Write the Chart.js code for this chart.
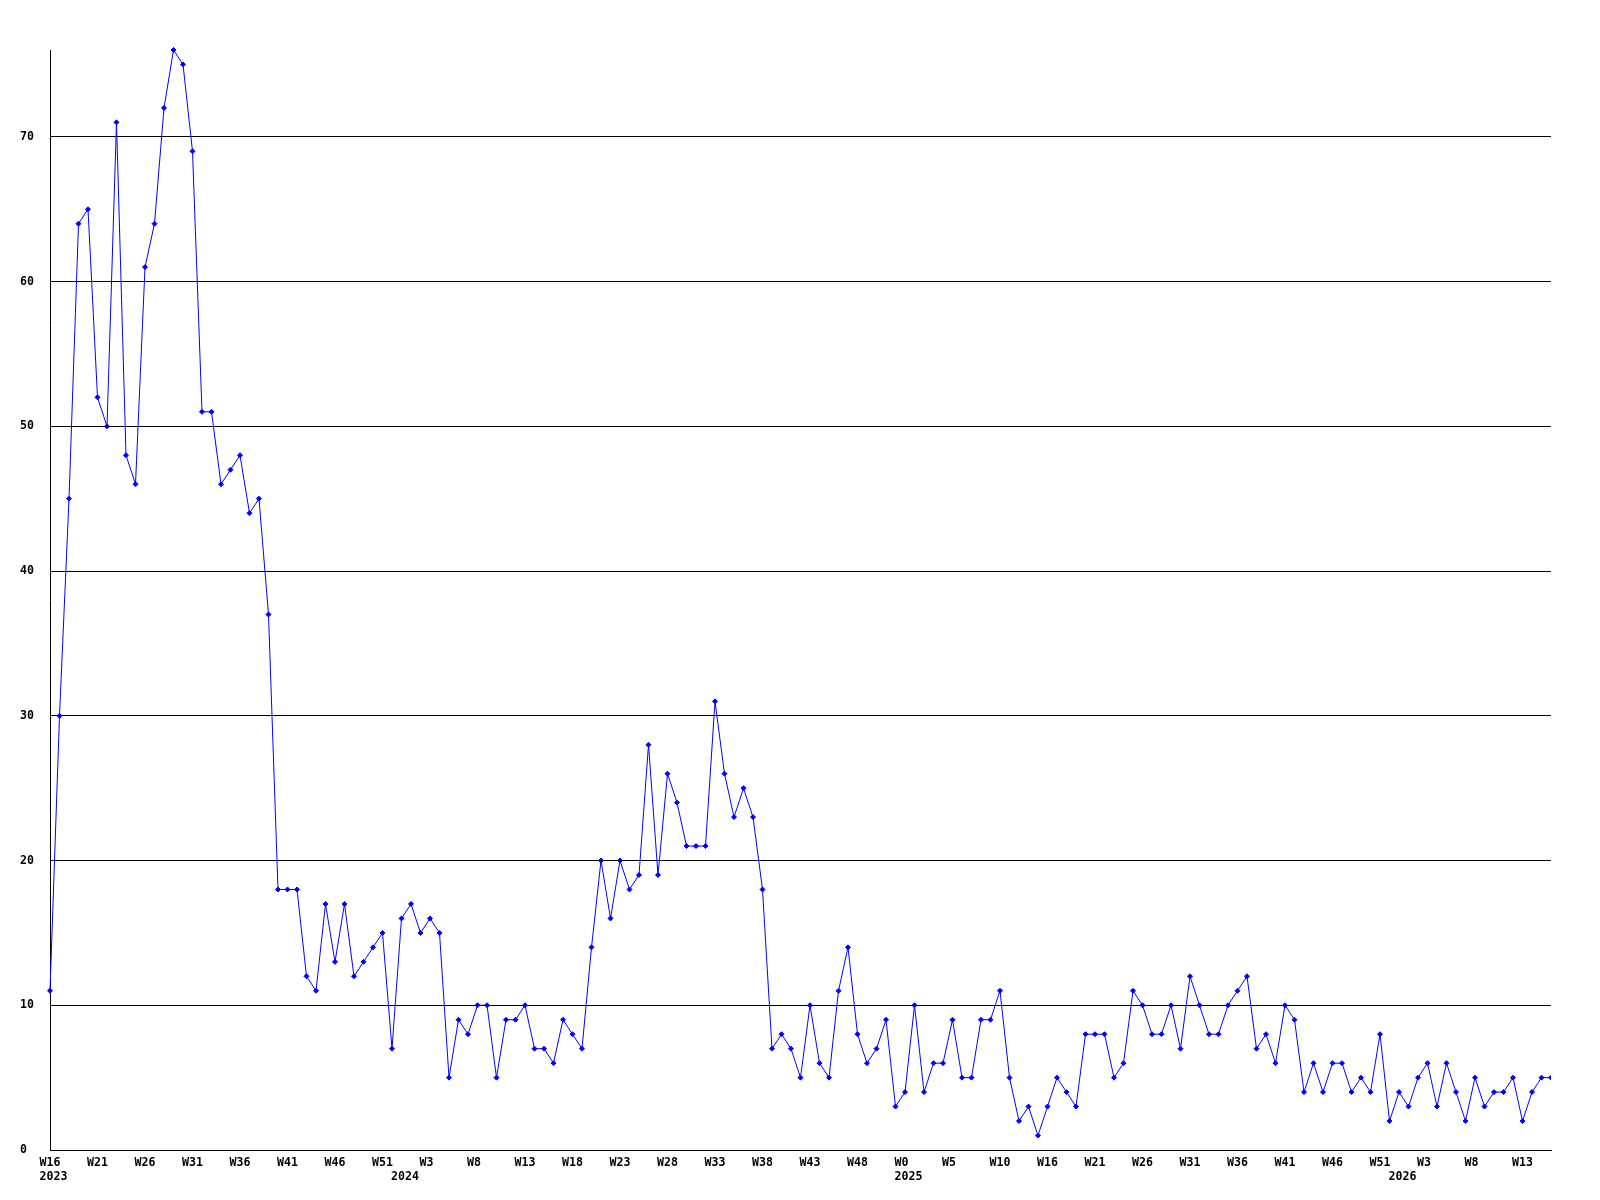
<!DOCTYPE html>
<html>
<head>
<meta charset="utf-8">
<title>Weekly count</title>
<script src="https://cdn.jsdelivr.net/npm/chart.js@4.4.0/dist/chart.umd.min.js"></script>
<style>
  body { margin: 0; background: #fff; }
  #chart { display: block; }
</style>
</head>
<body>
<canvas id="chart" width="1600" height="1200"></canvas>
<script>
// one value per week, starting at W16 2023
const weeklyCounts = [
    11, 30, 45, 64, 65, 52, 50, 71, 48, 46, 61, 64, 72, 76, 75, 69, 51, 51, 46, 47, 48, 44, 45, 37,
    18, 18, 18, 12, 11, 17, 13, 17, 12, 13, 14, 15, 7, 16, 17, 15, 16, 15, 5, 9, 8, 10, 10, 5,
    9, 9, 10, 7, 7, 6, 9, 8, 7, 14, 20,
    16, 20, 18, 19, 28, 19, 26, 24, 21, 21, 21, 31, 26, 23, 25, 23, 18, 7,
    8, 7, 5, 10, 6, 5, 11, 14, 8, 6, 7, 9, 3, 4, 10, 4, 6, 6, 9, 5, 5, 9, 9, 11, 5, 2, 3, 1,
    3, 5, 4, 3, 8, 8,
    8, 5, 6, 11, 10, 8, 8, 10, 7, 12, 10, 8, 8, 10, 11, 12, 7, 8, 6, 10, 9, 4, 6, 4, 6, 6, 4,
    5, 4, 8, 2, 4, 3, 5, 6, 3, 6, 4, 2, 5, 3, 4, 4, 5, 2, 4, 5, 5
];

// week labels, shown every 5th point
const weekTicks = [
    'W16', 'W21', 'W26', 'W31', 'W36', 'W41', 'W46', 'W51', 'W3', 'W8', 'W13', 'W18', 'W23',
    'W28', 'W33', 'W38', 'W43', 'W48', 'W0', 'W5', 'W10', 'W16', 'W21', 'W26', 'W31', 'W36',
    'W41', 'W46', 'W51', 'W3', 'W8', 'W13'
];
const tickStep = 5;

// year labels, placed under the first week of each year
const yearLabels = ['2023', '2024', '2025', '2026'];
const yearStarts = [0, 37, 90, 142];

const axisFont = {
    family: "'DejaVu Sans Mono', monospace",
    size: 11.6,
    weight: 'bold',
    lineHeight: '14.6px'
};

function xTickLabel(value, index) {
    const week = index % tickStep === 0 ? weekTicks[index / tickStep] : undefined;
    const y = yearStarts.indexOf(index);
    if (week === undefined && y < 0) return '';
    // pad so every line starts at the same spot left of the tick
    const lines = [week ? week.padEnd(3) : ''];
    if (y >= 0) lines.push(yearLabels[y].padStart(5));
    return lines;
}

const ctx = document.getElementById('chart').getContext('2d');
new Chart(ctx, {
    type: 'line',
    data: {
        labels: weeklyCounts.map((_, i) => i),
        datasets: [{
            data: weeklyCounts,
            borderColor: '#0000ff',
            borderWidth: 1,
            tension: 0,
            pointStyle: 'rectRot',
            pointRadius: 2.5,
            pointBackgroundColor: '#0000ff',
            pointBorderColor: '#0000ff',
            pointBorderWidth: 1,
            clip: { left: 10, top: 10, right: 0, bottom: 10 }
        }]
    },
    options: {
        responsive: false,
        animation: false,
        events: [],
        layout: { padding: { left: 20, top: 50, right: 49, bottom: 0 } },
        plugins: {
            legend: { display: false },
            tooltip: { enabled: false }
        },
        scales: {
            x: {
                grid: { display: false, drawTicks: false },
                border: { display: true, color: '#000', width: 1 },
                ticks: {
                    autoSkip: false,
                    maxRotation: 0,
                    minRotation: 0,
                    padding: 5.4,
                    color: '#000',
                    font: axisFont,
                    callback: xTickLabel
                },
                afterFit: (scale) => { scale.height = 50; }
            },
            y: {
                min: 0,
                max: Math.max(...weeklyCounts),
                grid: { color: '#000', lineWidth: 1, drawTicks: false },
                border: { display: true, color: '#000', width: 1 },
                ticks: {
                    stepSize: 10,
                    includeBounds: false,
                    crossAlign: 'far',
                    color: '#000',
                    font: axisFont
                },
                afterFit: (scale) => { scale.width = 30; }
            }
        }
    }
});
</script>
</body>
</html>
